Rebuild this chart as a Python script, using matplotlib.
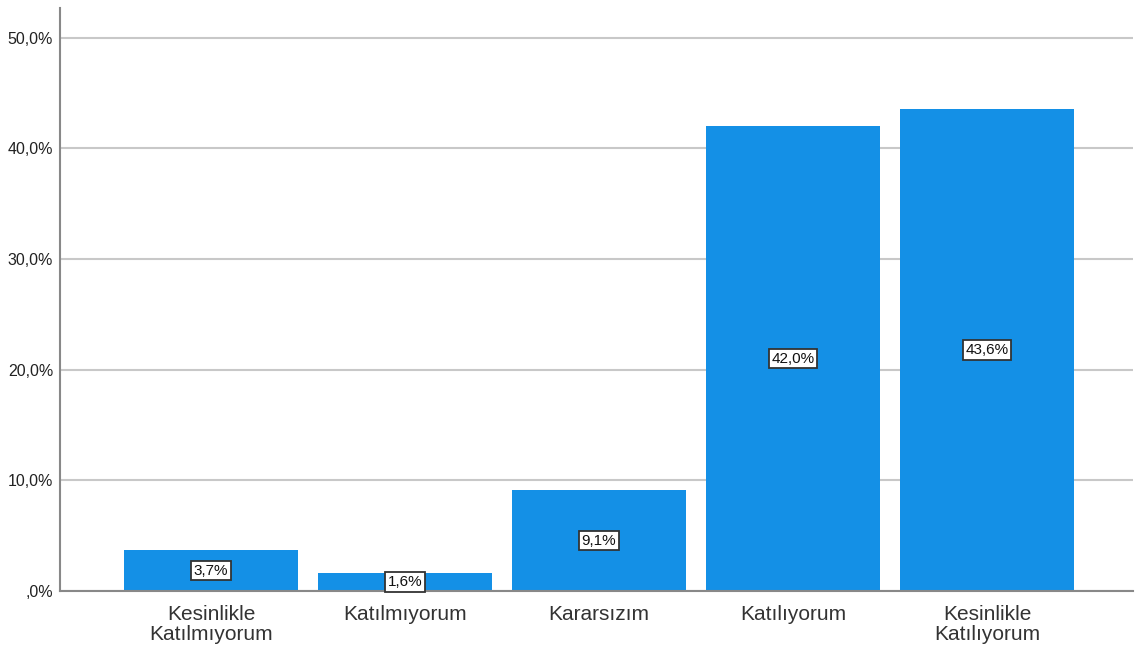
import matplotlib
matplotlib.use("Agg")
import matplotlib.pyplot as plt
from matplotlib.ticker import FuncFormatter

plt.rcParams['font.family'] = ['Liberation Sans', 'DejaVu Sans']

# answer categories and percentages
categories = ["Kesinlikle\nKatılmıyorum", "Katılmıyorum", "Kararsızım",
              "Katılıyorum", "Kesinlikle\nKatılıyorum"]
percents = [3.7, 1.6, 9.1, 42.0, 43.6]
yticks = [0, 10, 20, 30, 40, 50]

fig = plt.figure(figsize=(11.35, 6.53), dpi=100)
ax = fig.add_axes([60/1135, 62/653, 1073/1135, 583/653])

x = range(len(categories))
bars = ax.bar(x, percents, width=174/194, color="#1490e6", zorder=3)

def pct(v, pos=None):
    s = "%.1f%%" % v
    s = s.replace(".", ",")
    if s.startswith("0,"):
        s = s[1:]
    return s

for b, v in zip(bars, percents):
    ax.text(b.get_x() + b.get_width()/2, v/2, pct(v), ha="center", va="center",
            fontsize=11, color="#111111", zorder=5,
            bbox=dict(boxstyle="square,pad=0.18", fc="white", ec="#333333", lw=1.3))

ax.set_xlim(-0.5 - 54/194, 4.5 + 49/194)
ax.set_ylim(0, 52.7)
ax.set_yticks(yticks)
ax.yaxis.set_major_formatter(FuncFormatter(pct))
ax.set_xticks(list(x))
ax.set_xticklabels(categories, fontsize=15, color="#333333", linespacing=1.05)
ax.tick_params(axis="y", labelsize=11.5, colors="#222222", length=0, pad=5)
ax.tick_params(axis="x", length=0, pad=10)
ax.grid(axis="y", color="#c8c8c8", lw=1.5, zorder=1)

for s in ["top", "right"]:
    ax.spines[s].set_visible(False)
for s in ["left", "bottom"]:
    ax.spines[s].set_color("#888888")
    ax.spines[s].set_linewidth(1.5)
    ax.spines[s].set_zorder(4)

fig.savefig("out.png", dpi=100)
